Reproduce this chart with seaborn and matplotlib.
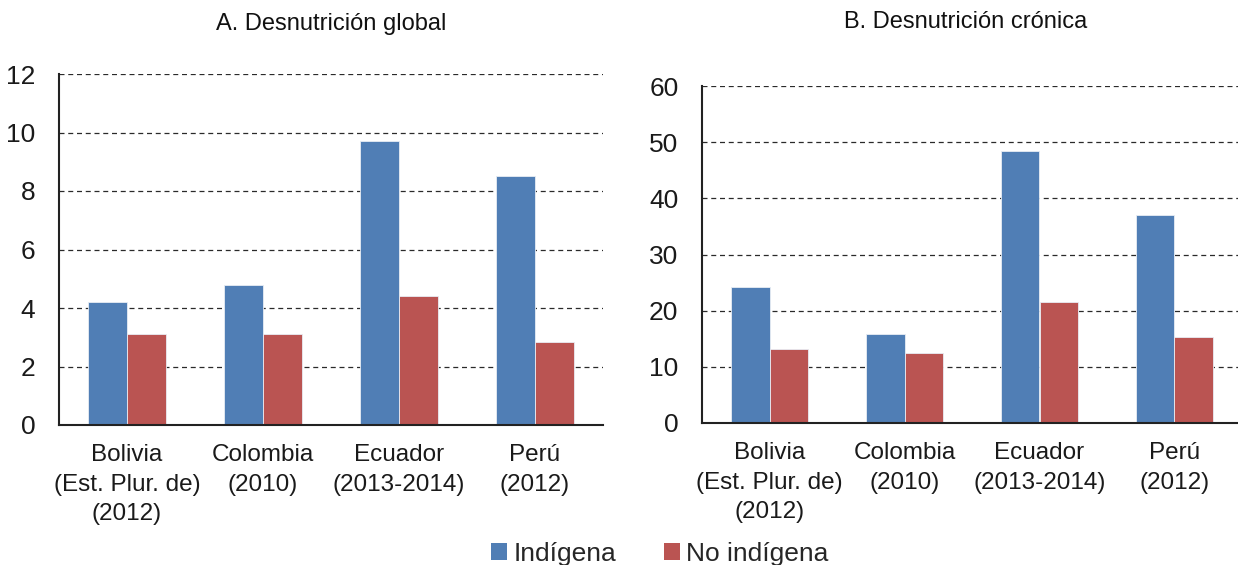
import matplotlib
matplotlib.use("Agg")
import matplotlib.pyplot as plt
import seaborn as sns
import pandas as pd
from matplotlib.patches import Patch


# ── Data ──────────────────────────────────────────────────────────────────────
countries = [
    "Bolivia\n(Est. Plur. de)\n(2012)",
    "Colombia\n(2010)",
    "Ecuador\n(2013-2014)",
    "Perú\n(2012)",
]
groups = ["Indígena", "No indígena"]

global_indigena    = [4.2, 4.8, 9.7, 8.5]
global_no_indigena = [3.1, 3.1, 4.4, 2.85]

cronica_indigena    = [24.3, 15.8, 48.4, 37.0]
cronica_no_indigena = [13.1, 12.4, 21.5, 15.4]

titles = ["A. Desnutrición global", "B. Desnutrición crónica"]
y_max  = [12, 60]
y_step = [2, 10]

COLORS = {"Indígena": "#507EB5", "No indígena": "#BA5452"}


def long_frame(ind, no_ind):
    rows = []
    for c, a, b in zip(countries, ind, no_ind):
        rows.append(dict(pais=c, grupo=groups[0], valor=a))
        rows.append(dict(pais=c, grupo=groups[1], valor=b))
    return pd.DataFrame(rows)


panels = [
    long_frame(global_indigena, global_no_indigena),
    long_frame(cronica_indigena, cronica_no_indigena),
]

# ── Figure ────────────────────────────────────────────────────────────────────
sns.set_style("white")
plt.rcParams["font.family"] = ["Liberation Sans", "DejaVu Sans"]

fig = plt.figure(figsize=(12.38, 5.65), dpi=100)
W, H = 1238, 565

# axes boxes in pixels: (left, top, right, bottom)
boxes = [(59, 74, 603, 425), (702, 86, 1242, 423)]
title_pos = [(331, 24), (966, 22)]

for df, (l, t, r, b), title, ymax, ystep, (tx, ty) in zip(
        panels, boxes, titles, y_max, y_step, title_pos):
    ax = fig.add_axes([l / W, 1 - b / H, (r - l) / W, (b - t) / H])
    sns.barplot(
        data=df, x="pais", y="valor", hue="grupo",
        palette=COLORS, order=countries, hue_order=groups,
        width=0.57, gap=0, dodge=True, legend=False, saturation=1,
        edgecolor="#e8edf4", linewidth=0.6, ax=ax, zorder=3,
    )
    ax.set_xlim(-0.5, len(countries) - 0.5)
    ax.set_ylim(0, ymax)
    ax.set_yticks(range(0, ymax + 1, ystep))
    ax.set_xlabel("")
    ax.set_ylabel("")

    # category boundaries carry the tick marks, centers carry the labels
    ax.set_xticks([i - 0.5 for i in range(len(countries) + 1)])
    ax.set_xticklabels([])
    ax.set_xticks(range(len(countries)), minor=True)
    ax.set_xticklabels(countries, minor=True, fontsize=17.5, linespacing=1.42,
                       color="#1a1a1a")
    ax.tick_params(axis="x", which="major", length=7, width=1.3,
                   direction="out", color="#222222")
    ax.tick_params(axis="x", which="minor", length=0, pad=14)
    ax.tick_params(axis="y", length=6, width=1.3, direction="out",
                   color="#222222", labelsize=19, pad=11, labelcolor="#1a1a1a")

    ax.yaxis.grid(True, linestyle=(0, (4, 3)), color="#2a2a2a", linewidth=0.9)
    ax.set_axisbelow(True)

    sns.despine(ax=ax, top=True, right=True)
    for side in ("left", "bottom"):
        ax.spines[side].set_color("#222222")
        ax.spines[side].set_linewidth(1.5)
    ax.spines["bottom"].set_zorder(4)

    fig.text(tx / W, 1 - ty / H, title, ha="center", va="center",
             fontsize=17, color="#111111")

handles = [Patch(facecolor=COLORS[g], edgecolor="none") for g in groups]
fig.legend(
    handles, groups, loc="center", bbox_to_anchor=(0.533, 0.02),
    ncol=2, frameon=False, fontsize=19,
    handlelength=0.6, handleheight=0.6, handletextpad=0.25,
    columnspacing=1.8, borderpad=0,
)

fig.savefig("out.png", dpi=100)
plt.close(fig)
